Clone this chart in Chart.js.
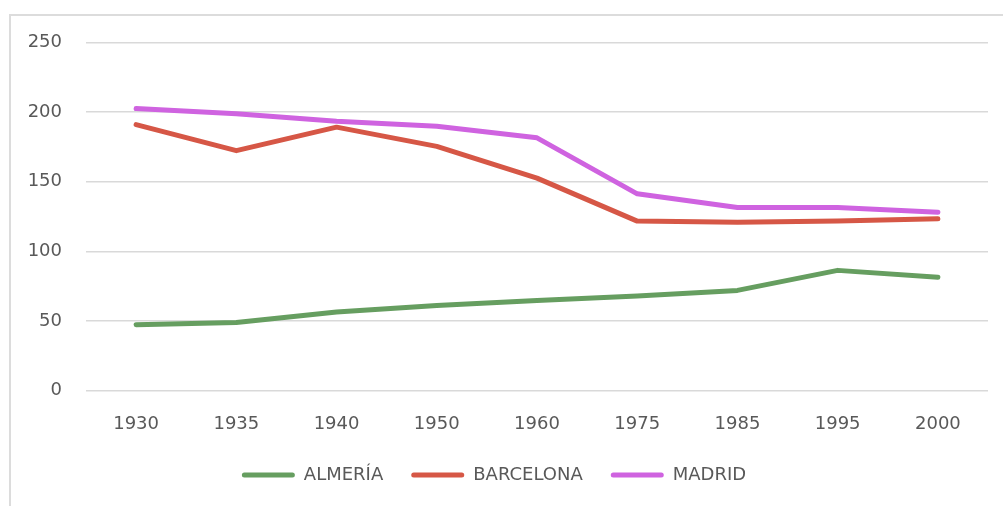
<!DOCTYPE html>
<html>
<head>
<meta charset="utf-8">
<script src="https://cdn.jsdelivr.net/npm/chart.js@4"></script>
<style>
html,body{margin:0;padding:0;background:#fff;overflow:hidden;}
#wrap{position:relative;width:1003px;height:506px;}
#frame{position:absolute;left:9px;top:14px;width:1100px;height:600px;border-top:2px solid #dcdcdc;border-left:2px solid #dcdcdc;pointer-events:none;}
canvas{position:absolute;left:0;top:0;}
</style>
</head>
<body>
<div id="wrap">
<canvas id="c" width="1003" height="506"></canvas>
<div id="frame"></div>
</div>
<script>
const categories = ["1930","1935","1940","1950","1960","1975","1985","1995","2000"];
const almeria   = [47.3, 48.8, 56.4, 61, 64.7, 67.8, 71.9, 86.3, 81.3];
const barcelona = [191, 172.3, 189.2, 175.4, 152.6, 121.7, 120.8, 121.7, 123.4];
const madrid    = [202.5, 198.8, 193.5, 189.9, 181.5, 141.3, 131.4, 131.4, 128];
const seriesNames = ["ALMERÍA", "BARCELONA", "MADRID"];
const seriesColors = ["#669E60", "#D65746", "#CF63E0"];
const yTicks = [0, 50, 100, 150, 200, 250];

const FONT = "'DejaVu Sans', sans-serif";
const TEXT = "#595959";

function ds(label, data, color){
  return {label, data, borderColor: color, backgroundColor: color, borderWidth: 5,
    pointRadius: 0, pointHoverRadius: 0, tension: 0, fill: false,
    borderCapStyle: 'round', borderJoinStyle: 'round'};
}

new Chart(document.getElementById('c'), {
  type: 'line',
  data: {
    labels: categories,
    datasets: [
      ds(seriesNames[0], almeria, seriesColors[0]),
      ds(seriesNames[1], barcelona, seriesColors[1]),
      ds(seriesNames[2], madrid, seriesColors[2])
    ]
  },
  options: {
    responsive: false,
    animation: false,
    layout: {padding: {left: 0, right: 15, top: 42.5, bottom: 12}},
    plugins: {
      tooltip: {enabled: false},
      legend: {
        position: 'bottom',
        labels: {
          color: TEXT,
          font: {family: FONT, size: 18},
          boxWidth: 53,
          boxHeight: 5,
          padding: 28,
          generateLabels(chart){
            return chart.data.datasets.map((d, i) => ({
              text: d.label, fillStyle: d.borderColor, strokeStyle: d.borderColor,
              lineWidth: 0, borderRadius: 2.5, datasetIndex: i, hidden: false, fontColor: TEXT
            }));
          }
        }
      }
    },
    scales: {
      x: {
        offset: true,
        grid: {display: false, drawTicks: false},
        border: {display: false},
        ticks: {color: TEXT, font: {family: FONT, size: 18}, padding: 23.5, maxRotation: 0},
        afterFit(s){ s.height = 47.5; }
      },
      y: {
        min: 0, max: 250,
        afterBuildTicks(s){ s.ticks = yTicks.map(v => ({value: v})); },
        grid: {color: '#D9D9D9', lineWidth: 1.5, drawTicks: false},
        border: {display: false},
        ticks: {color: TEXT, font: {family: FONT, size: 18}, padding: 24},
        afterFit(s){ s.width = 86; }
      }
    }
  }
});
</script>
</body>
</html>
